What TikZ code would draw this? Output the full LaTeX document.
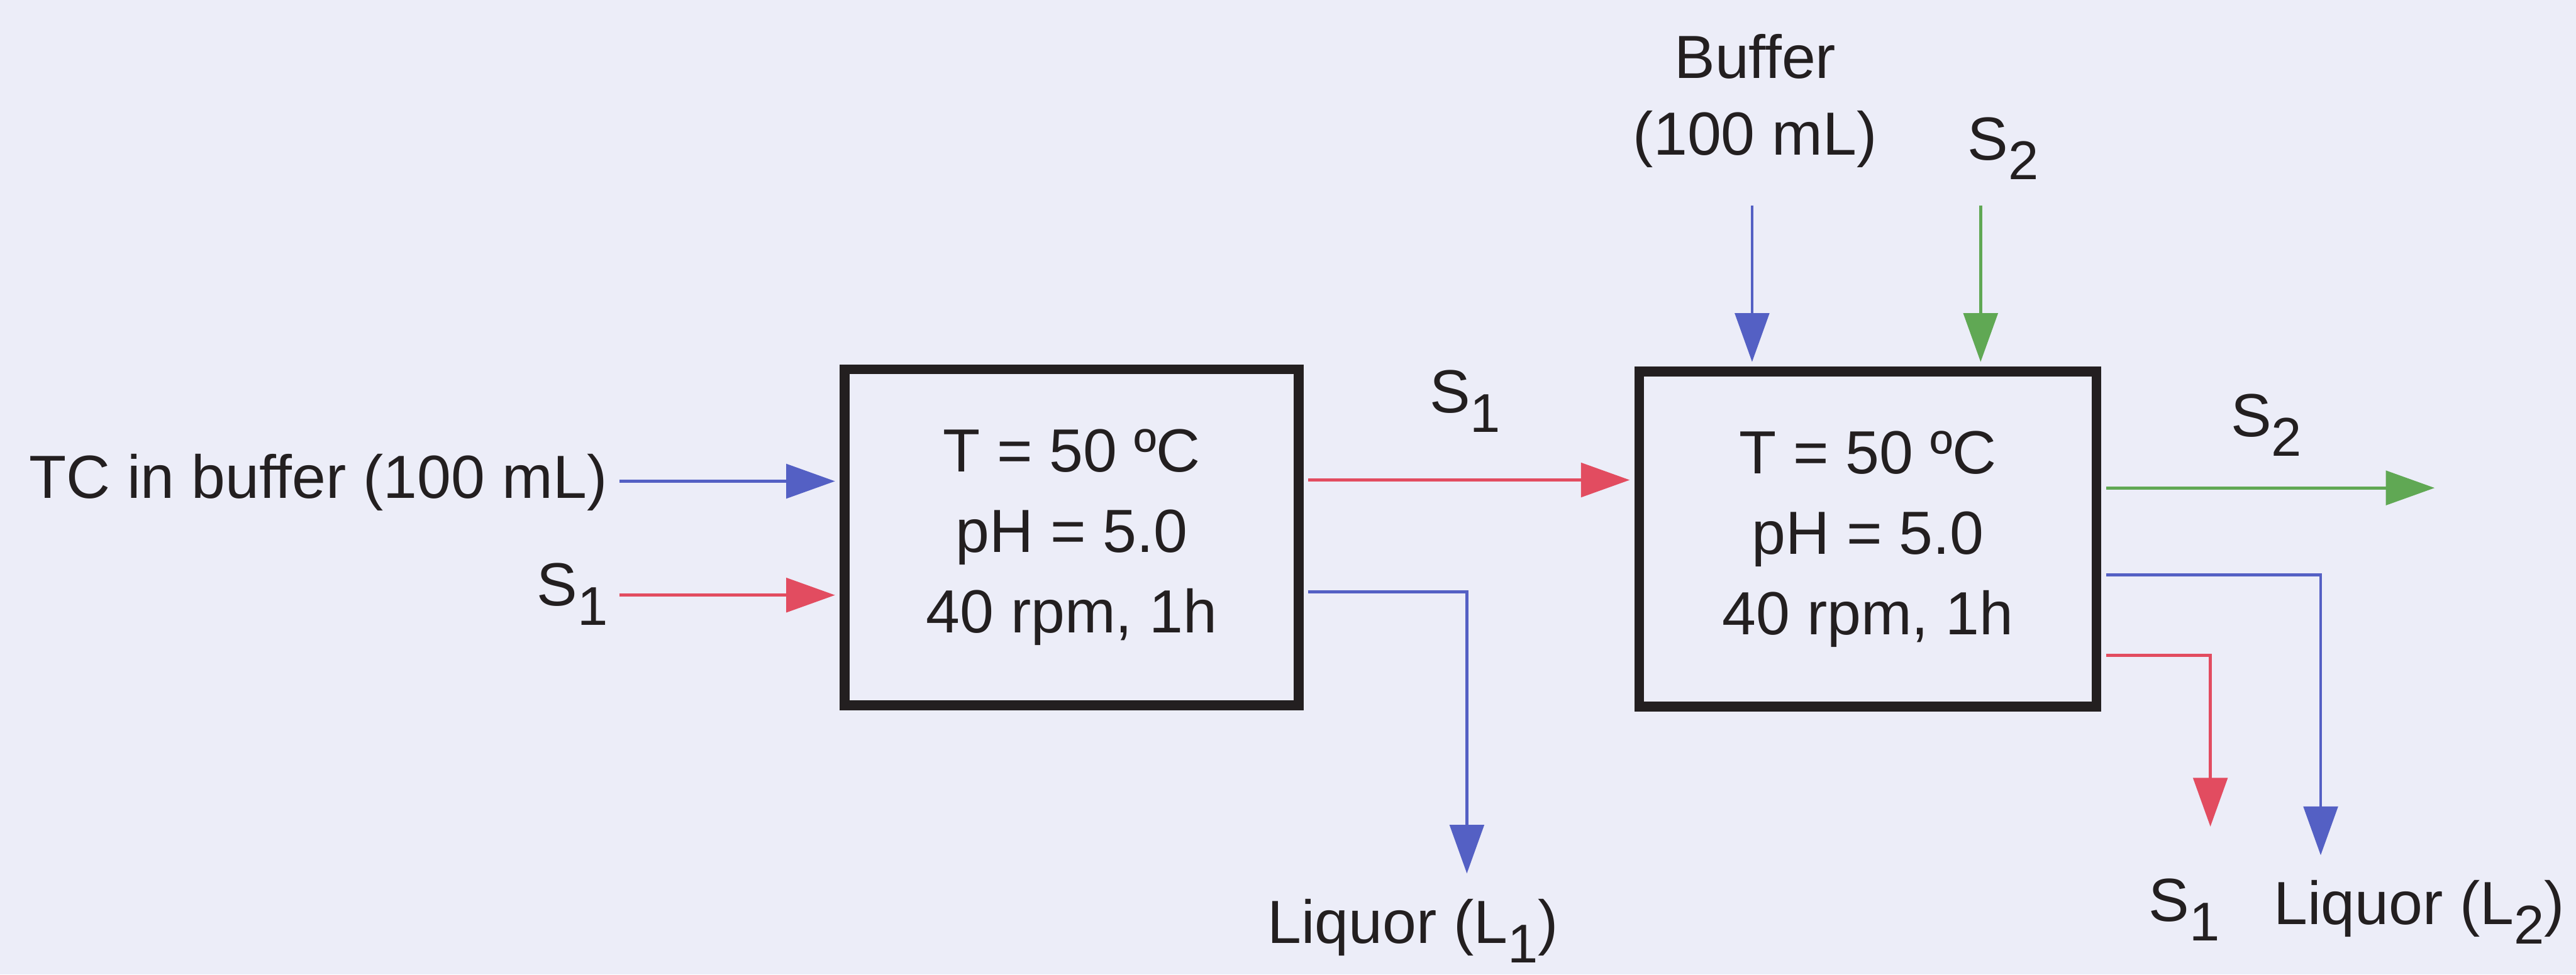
\documentclass[tikz,border=0pt]{standalone}
\usepackage{fontspec}
\setmainfont{Liberation Sans}
\usetikzlibrary{arrows.meta}
\definecolor{bgc}{RGB}{236,237,248}
\definecolor{inkc}{RGB}{35,31,32}
\definecolor{fblue}{RGB}{84,96,196}
\definecolor{fred}{RGB}{226,76,96}
\definecolor{fgreen}{RGB}{96,168,84}
\newcommand{\subsc}[1]{\raisebox{-0.32em}{\fontsize{25.5}{25.5}\selectfont #1}}
\begin{document}
\begin{tikzpicture}[
  every node/.style={font=\fontsize{28.45}{37.5}\selectfont, text=inkc, inner sep=0pt},
  unitbox/.style={draw=inkc, line width=4.5pt, align=center},
  flow/.style={line width=1.4pt, -{Triangle[length=0.8cm,width=0.56cm]}},
  intobox/.style={flow, shorten >=2.25pt},
  outofbox/.style={flow, shorten <=2.25pt},
  linkbox/.style={flow, shorten <=2.25pt, shorten >=2.25pt}
]
\fill[bgc] (0,0) rectangle (42.27,16);
\useasboundingbox (0,0) rectangle (42.27,16);

% process units
\node[unitbox, minimum width=7.45cm, minimum height=5.52cm] (r1) at (17.585,7.18)
  {T = 50 ºC\\pH = 5.0\\40 rpm, 1h};
\node[unitbox, minimum width=7.50cm, minimum height=5.50cm] (r2) at (30.65,7.15)
  {T = 50 ºC\\pH = 5.0\\40 rpm, 1h};

% free ends and levels
\coordinate (tcS) at (10.16,8.10);
\coordinate (s1S) at (10.16,6.23);
\coordinate (midY) at (0,8.12);
\coordinate (l1Y) at (0,6.28);
\coordinate (l1T) at (24.07,1.66);
\coordinate (bufS) at (28.75,12.63);
\coordinate (s2S) at (32.50,12.63);
\coordinate (s2T) at (39.95,7.99);
\coordinate (l2Y) at (0,6.56);
\coordinate (l2T) at (38.08,1.96);
\coordinate (s1Y) at (0,5.24);
\coordinate (s1T) at (36.27,2.43);

% connectors
\draw[intobox, fblue] (tcS) -- (tcS -| r1.west);
\draw[intobox, fred] (s1S) -- (s1S -| r1.west);
\draw[linkbox, fred] (midY -| r1.east) -- (midY -| r2.west);
\draw[outofbox, fblue] (l1Y -| r1.east) -| (l1T);
\draw[intobox, fblue] (bufS) -- (bufS |- r2.north);
\draw[intobox, fgreen] (s2S) -- (s2S |- r2.north);
\draw[outofbox, fgreen] (s2T -| r2.east) -- (s2T);
\draw[outofbox, fblue] (l2Y -| r2.east) -| (l2T);
\draw[outofbox, fred] (s1Y -| r2.east) -| (s1T);

% labels
\node[anchor=base east] (tc) at (9.97,7.82) {TC in buffer (100 mL)};
\node[anchor=base east] (s1in) at (9.98,6.06) {S\subsc{1}};
\node[anchor=base west] (s1mid) at (23.45,9.22) {S\subsc{1}};
\node[anchor=base west] (liq1) at (20.79,0.52) {Liquor (L\subsc{1})};
\node[anchor=base] (buf1) at (28.80,14.71) {Buffer};
\node[anchor=base] (buf2) at (28.80,13.46) {(100 mL)};
\node[anchor=base west] (s2in) at (32.28,13.37) {S\subsc{2}};
\node[anchor=base west] (s2out) at (36.60,8.83) {S\subsc{2}};
\node[anchor=base west] (s1out) at (35.25,0.88) {S\subsc{1}};
\node[anchor=base west] (liq2) at (37.30,0.82) {Liquor (L\subsc{2})};
\end{tikzpicture}
\end{document}
